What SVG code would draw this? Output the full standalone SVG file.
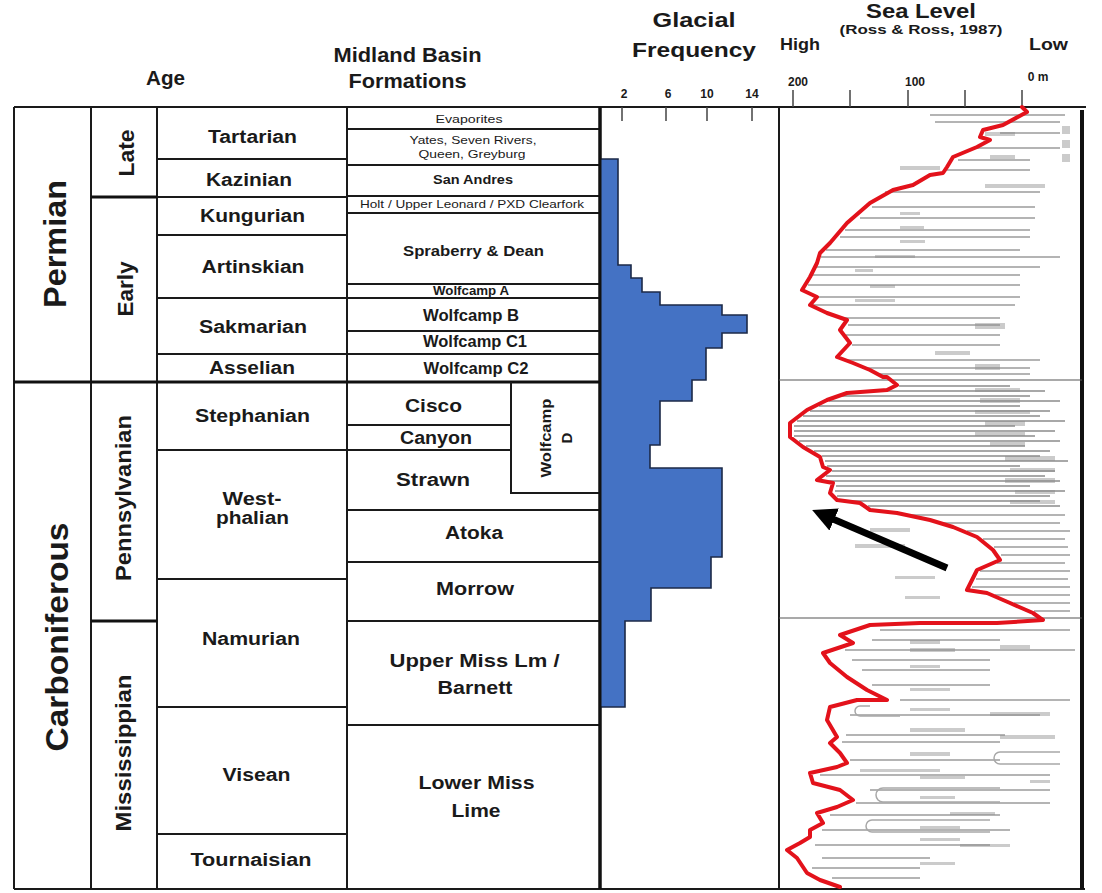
<svg xmlns="http://www.w3.org/2000/svg" width="1102" height="893" viewBox="0 0 1102 893">
<defs>
<style>
text{font-family:"Liberation Sans",Arial,sans-serif;fill:#1a1a1a;text-anchor:middle}
.b{font-weight:bold}
.hdr{font-weight:bold;font-size:21px}
.era{font-weight:bold;font-size:32px}
.ser{font-weight:bold;font-size:22px}
.stg{font-weight:bold;font-size:18px}
.fm{font-weight:bold;font-size:18px}
.fs{font-size:11px}
.tk{font-weight:bold;font-size:12px}
.ln{stroke:#1a1a1a;stroke-width:2;fill:none}
.thk{stroke:#111;stroke-width:3;fill:none}
.tick{stroke:#444;stroke-width:1.5}
.gl{stroke:#b4b4b4;stroke-width:2;fill:none}
.gd{stroke:#a8a8a8;stroke-width:1.8;fill:none}
.blk{fill:#8c8c8c;opacity:0.45}
</style>
<marker id="ah" markerUnits="userSpaceOnUse" viewBox="0 0 24 24" markerWidth="24" markerHeight="24" refX="10" refY="12" orient="auto">
<path d="M0,0 L24,12 L0,24 z" fill="#000"/>
</marker>
</defs>
<rect width="1102" height="893" fill="#fff"/>

<g id="header">
<text class="hdr" x="165.5" y="85" font-size="20" textLength="39" lengthAdjust="spacingAndGlyphs">Age</text>
<text class="hdr" x="407.5" y="62" textLength="148" lengthAdjust="spacingAndGlyphs">Midland Basin</text>
<text class="hdr" x="407.5" y="88" textLength="118" lengthAdjust="spacingAndGlyphs">Formations</text>
<text class="hdr" x="694" y="27" font-size="22" textLength="83" lengthAdjust="spacingAndGlyphs">Glacial</text>
<text class="hdr" x="694" y="57" font-size="22" textLength="124" lengthAdjust="spacingAndGlyphs">Frequency</text>
<text class="hdr" x="921" y="18" font-size="18" textLength="110" lengthAdjust="spacingAndGlyphs">Sea Level</text>
<text class="b" x="921" y="34" font-size="13" textLength="163" lengthAdjust="spacingAndGlyphs">(Ross &amp; Ross, 1987)</text>
<text class="b" x="800" y="50" font-size="17" textLength="40" lengthAdjust="spacingAndGlyphs">High</text>
<text class="b" x="1048.5" y="50" font-size="17" textLength="39" lengthAdjust="spacingAndGlyphs">Low</text>
<text class="tk" x="624" y="98">2</text>
<text class="tk" x="668" y="98">6</text>
<text class="tk" x="707" y="98">10</text>
<text class="tk" x="752" y="98">14</text>
<text class="tk" x="798" y="86">200</text>
<text class="tk" x="915" y="86">100</text>
<text class="tk" x="1038" y="81">0 m</text>
</g>

<g id="frame">
<path class="ln" d="M14,107 H1086 M14,889 H1085 M14,107 V889 M91,107 V889 M157,107 V889 M347,107 V889 M779,107 V889"/>
<path class="thk" d="M600,107 V889"/>
<path d="M1082,110 V889" stroke="#111" stroke-width="4"/>
<path class="tick" d="M622,107 V121 M666,107 V121 M707,107 V121 M752,107 V121 M793,90 V107 M850,90 V107 M908,90 V107 M965,90 V107 M1022,90 V107"/>
</g>

<g id="era-permian">
<text class="era" transform="translate(66,244) rotate(-90)" textLength="128" lengthAdjust="spacingAndGlyphs">Permian</text>
</g>
<g id="era-carboniferous">
<path class="thk" d="M14,382 H600"/>
<text class="era" transform="translate(68,637) rotate(-90)" textLength="229" lengthAdjust="spacingAndGlyphs">Carboniferous</text>
</g>

<g id="series-late"><text class="ser" transform="translate(134,153) rotate(-90)" textLength="47" lengthAdjust="spacingAndGlyphs">Late</text></g>
<g id="series-early"><path class="thk" d="M91,197 H157"/><text class="ser" transform="translate(133,289) rotate(-90)" textLength="55" lengthAdjust="spacingAndGlyphs">Early</text></g>
<g id="series-pennsylvanian"><text class="ser" transform="translate(131,498) rotate(-90)" textLength="166" lengthAdjust="spacingAndGlyphs">Pennsylvanian</text></g>
<g id="series-mississippian"><path class="thk" d="M91,621 H157"/><text class="ser" transform="translate(131,753) rotate(-90)" textLength="157" lengthAdjust="spacingAndGlyphs">Mississippian</text></g>

<g id="stages">
<path class="ln" d="M157,159 H347 M157,197 H347 M157,235 H347 M157,298 H347 M157,354 H347 M157,450 H347 M157,579 H347 M157,707 H347 M157,834 H347"/>
<g id="st-tartarian"><text class="stg" x="252.5" y="143" textLength="89" lengthAdjust="spacingAndGlyphs">Tartarian</text></g>
<g id="st-kazinian"><text class="stg" x="249" y="186" textLength="86" lengthAdjust="spacingAndGlyphs">Kazinian</text></g>
<g id="st-kungurian"><text class="stg" x="252.5" y="222" textLength="105" lengthAdjust="spacingAndGlyphs">Kungurian</text></g>
<g id="st-artinskian"><text class="stg" x="253" y="273" textLength="103" lengthAdjust="spacingAndGlyphs">Artinskian</text></g>
<g id="st-sakmarian"><text class="stg" x="253" y="333" textLength="108" lengthAdjust="spacingAndGlyphs">Sakmarian</text></g>
<g id="st-asselian"><text class="stg" x="252" y="374" textLength="86" lengthAdjust="spacingAndGlyphs">Asselian</text></g>
<g id="st-stephanian"><text class="stg" x="252.5" y="422" textLength="115" lengthAdjust="spacingAndGlyphs">Stephanian</text></g>
<g id="st-westphalian"><text class="stg" x="252" y="505" textLength="59" lengthAdjust="spacingAndGlyphs">West-</text><text class="stg" x="252.5" y="524" textLength="73" lengthAdjust="spacingAndGlyphs">phalian</text></g>
<g id="st-namurian"><text class="stg" x="251" y="645" textLength="98" lengthAdjust="spacingAndGlyphs">Namurian</text></g>
<g id="st-visean"><text class="stg" x="256.5" y="781" textLength="68" lengthAdjust="spacingAndGlyphs">Visean</text></g>
<g id="st-tournaisian"><text class="stg" x="251" y="866" textLength="121" lengthAdjust="spacingAndGlyphs">Tournaisian</text></g>
</g>

<g id="formations">
<path class="ln" d="M347,129 H600 M347,165 H600 M347,196 H600 M347,213 H600 M347,284 H600 M347,298 H600 M347,331 H600 M347,354 H600 M347,425 H511 M347,450 H511 M511,382 V493 H600 M347,510 H600 M347,562 H600 M347,621 H600 M347,725 H600"/>
<g id="fm-evaporites"><text class="fs" x="469" y="123" textLength="67" lengthAdjust="spacingAndGlyphs">Evaporites</text></g>
<g id="fm-yates"><text class="fs" x="473" y="144" textLength="127" lengthAdjust="spacingAndGlyphs">Yates, Seven Rivers,</text><text class="fs" x="472" y="158" textLength="107" lengthAdjust="spacingAndGlyphs">Queen, Greyburg</text></g>
<g id="fm-sanandres"><text class="b" x="473" y="184" font-size="13" textLength="80" lengthAdjust="spacingAndGlyphs">San Andres</text></g>
<g id="fm-holt"><text class="fs" x="472" y="208" textLength="224" lengthAdjust="spacingAndGlyphs">Holt / Upper Leonard / PXD Clearfork</text></g>
<g id="fm-spraberry"><text class="b" x="473.5" y="256" font-size="15" textLength="141" lengthAdjust="spacingAndGlyphs">Spraberry &amp; Dean</text></g>
<g id="fm-wolfcampa"><text class="b" x="471" y="295" font-size="12" textLength="76" lengthAdjust="spacingAndGlyphs">Wolfcamp A</text></g>
<g id="fm-wolfcampb"><text class="b" x="471" y="321" font-size="16" textLength="96" lengthAdjust="spacingAndGlyphs">Wolfcamp B</text></g>
<g id="fm-wolfcampc1"><text class="b" x="475" y="347" font-size="16" textLength="104" lengthAdjust="spacingAndGlyphs">Wolfcamp C1</text></g>
<g id="fm-wolfcampc2"><text class="b" x="476" y="374" font-size="16" textLength="105" lengthAdjust="spacingAndGlyphs">Wolfcamp C2</text></g>
<g id="fm-cisco"><text class="fm" x="433.5" y="412" textLength="57" lengthAdjust="spacingAndGlyphs">Cisco</text></g>
<g id="fm-canyon"><text class="fm" x="436" y="444" font-size="17" textLength="72" lengthAdjust="spacingAndGlyphs">Canyon</text></g>
<g id="fm-strawn"><text class="fm" x="433" y="486" textLength="74" lengthAdjust="spacingAndGlyphs">Strawn</text></g>
<g id="fm-wolfcampd"><text class="b" transform="translate(551,438) rotate(-90)" font-size="15" textLength="79" lengthAdjust="spacingAndGlyphs">Wolfcamp</text><text class="b" transform="translate(572,438) rotate(-90)" font-size="15">D</text></g>
<g id="fm-atoka"><text class="fm" x="474" y="539" textLength="58" lengthAdjust="spacingAndGlyphs">Atoka</text></g>
<g id="fm-morrow"><text class="fm" x="475" y="595" textLength="78" lengthAdjust="spacingAndGlyphs">Morrow</text></g>
<g id="fm-uppermiss"><text class="fm" x="474.5" y="667" textLength="170" lengthAdjust="spacingAndGlyphs">Upper Miss  Lm /</text><text class="fm" x="475" y="694" textLength="75" lengthAdjust="spacingAndGlyphs">Barnett</text></g>
<g id="fm-lowermiss"><text class="fm" x="476.5" y="789" textLength="116" lengthAdjust="spacingAndGlyphs">Lower Miss</text><text class="fm" x="476" y="817" textLength="49" lengthAdjust="spacingAndGlyphs">Lime</text></g>
</g>

<g id="glacial-frequency">
<path d="M600,159 H618 V265 H631 V278 H642 V292 H660 V305 H722 V315 H747 V333 H722 V348 H706 V380 H692 V401 H660 V445 H650 V468 H722 V557 H711 V588 H651 V621 H625 V707 H600 Z" fill="#4472c4" stroke="#1c2a48" stroke-width="1.6"/>
<path class="thk" d="M600,107 V889"/>
</g>

<g id="sea-level">
<path d="M779,380 H1082 M779,618 H1082" stroke="#555" stroke-width="1.2"/>
<g id="sl-permian-lines">
<path class="gl" d="M930,115 H1065 M935,122 H1060 M1000,133 H1060 M975,148 H1060 M958,160 H1030 M947,170 H1030 M885,192 H1040 M872,207 H1035 M860,218 H1035 M845,230 H1030 M840,237 H1030 M826,250 H1020 M821,257 H1060 M817,267 H1040 M812,275 H1020 M808,285 H1020 M818,297 H1020 M813,305 H1015 M842,318 H1000 M848,325 H1000 M846,335 H1000 M852,345 H1000 M842,360 H1040 M862,368 H1030 M877,374 H1030"/>
<path class="blk" d="M1062,126 h8 v8 h-8z M1062,140 h8 v8 h-8z M1062,154 h8 v8 h-8z M985,132 h30 v4 h-30z M990,155 h25 v4 h-25z M900,166 h40 v4 h-40z M985,184 h60 v4 h-60z M900,212 h20 v3 h-20z M900,226 h24 v3 h-24z M900,240 h25 v3 h-25z M875,255 h40 v3 h-40z M855,269 h18 v3 h-18z M870,285 h25 v3 h-25z M855,299 h40 v3 h-40z M975,323 h30 v6 h-30z M935,351 h35 v4 h-35z M975,364 h25 v6 h-25z"/>
</g>
<g id="sl-penn-lines">
<path class="gd" d="M899,386 H1010 M874,391 H1045 M842,396 H1030 M829,401 H1060 M819,406 H1020 M810,411 H1050 M803,416 H1040 M797,421 H1065 M794,426 H1015 M794,431 H1055 M794,436 H1035 M799,441 H1060 M806,446 H1025 M814,451 H1050 M822,456 H1040 M825,461 H1068 M827,466 H1020 M832,471 H1055 M826,476 H1045 M826,481 H1060 M836,486 H1030 M835,491 H1065 M837,496 H1050 M849,501 H1040 M868,506 H1060"/>
<path class="gl" d="M909,515 H1065 M944,523 H1060 M967,531 H1070 M983,539 H1065 M994,547 H1068 M1001,555 H1070 M997,563 H1065 M980,571 H1070 M976,579 H1068 M972,587 H1070 M995,595 H1070 M1014,603 H1070 M1034,611 H1070"/>
<path class="blk" d="M975,388 h45 v4 h-45z M980,398 h40 v5 h-40z M975,410 h55 v4 h-55z M985,421 h40 v5 h-40z M975,432 h50 v4 h-50z M990,442 h35 v4 h-35z M1005,456 h50 v5 h-50z M1010,468 h45 v4 h-45z M1005,478 h50 v5 h-50z M1015,490 h40 v4 h-40z M1010,500 h45 v4 h-45z M870,528 h40 v4 h-40z M855,544 h50 v4 h-50z M895,576 h40 v3 h-40z M905,596 h35 v3 h-35z"/>
</g>
<g id="sl-miss-lines">
<path class="gl" d="M880,630 H1070 M872,640 H1000 M845,650 H1075 M852,660 H990 M862,670 H990 M872,685 H990 M900,700 H1070 M850,715 H1040 M846,735 H1005 M842,742 H1000 M850,760 H1000 M820,775 H1050 M870,790 H1050 M856,803 H1050 M830,815 H1000 M822,830 H1010 M815,845 H990 M822,858 H930 M812,868 H920 M832,878 H920"/>
<path d="M1000,788 H883 A7,7 0 0 0 883,802 H1000 M990,820 H872 A6,6 0 0 0 872,832 H990 M1060,752 H1000 A6,6 0 0 0 1000,764 H1060 M870,706 H860 A5,5 0 0 0 860,716 H900" stroke="#a8a8a8" stroke-width="1.5" fill="none"/>
<path class="blk" d="M910,640 h30 v4 h-30z M910,648 h45 v4 h-45z M1000,645 h30 v4 h-30z M910,665 h30 v3 h-30z M910,688 h40 v3 h-40z M910,708 h40 v3 h-40z M990,712 h60 v4 h-60z M910,728 h55 v4 h-55z M1000,735 h55 v4 h-55z M910,752 h40 v4 h-40z M860,769 h80 v3 h-80z M920,776 h45 v3 h-45z M1030,780 h20 v3 h-20z M920,796 h35 v3 h-35z M950,812 h45 v3 h-45z M920,826 h40 v3 h-40z M920,838 h40 v3 h-40z M960,844 h50 v3 h-50z M920,862 h35 v3 h-35z"/>
</g>
<polyline id="sea-level-curve" points="1022,107 1027,112 1003,125 983,130 980,137 990,140 977,147 953,157 947,167 943,173 930,175 913,185 893,190 870,203 847,223 830,243 820,253 817,263 810,277 802,290 817,297 810,305 827,313 847,320 840,330 850,343 837,357 853,363 870,370 883,377 887,377 897,385 887,390 847,393 827,400 807,410 790,423 790,437 803,447 820,457 823,467 830,470 817,480 833,483 830,493 837,500 860,503 870,510 897,513 930,520 953,527 977,537 993,550 1000,560 977,570 967,590 987,593 1010,603 1033,613 1040,618 1043,620 997,623 920,623 870,625 840,635 853,643 823,653 830,663 847,677 867,690 887,700 857,700 830,707 827,720 837,737 830,743 840,753 847,763 837,767 810,773 813,783 840,790 853,800 837,807 817,813 823,823 810,830 810,837 800,843 787,850 797,858 803,867 807,873 820,880 840,887" fill="none" stroke="#e3121b" stroke-width="4" stroke-linejoin="round" stroke-linecap="round"/>
</g>

<g id="connectors">
<line x1="947" y1="568" x2="825" y2="515.6" stroke="#000" stroke-width="7" marker-end="url(#ah)"/>
</g>
</svg>
